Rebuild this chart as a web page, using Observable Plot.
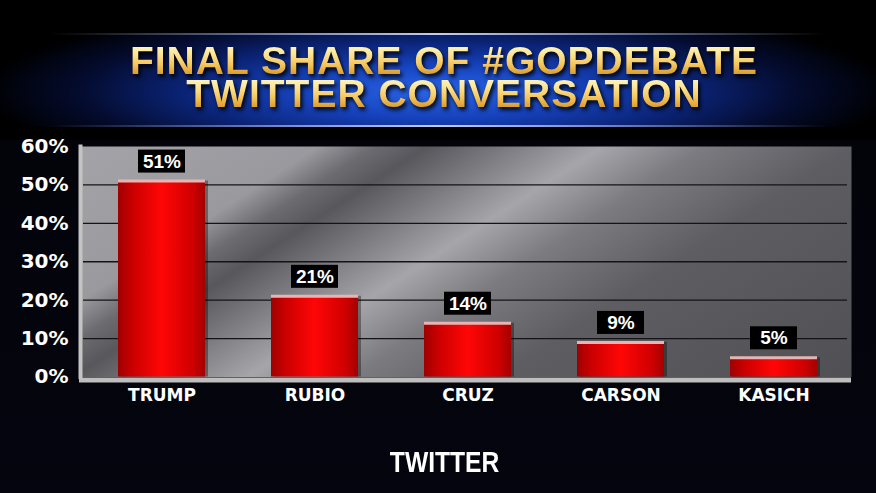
<!DOCTYPE html>
<html><head><meta charset="utf-8">
<script src="https://cdn.jsdelivr.net/npm/d3@7"></script>
<script src="https://cdn.jsdelivr.net/npm/@observablehq/plot@0.6"></script>
<style>
html,body{margin:0;padding:0;background:#000;}
#wrap{width:876px;height:493px;position:relative;overflow:hidden;background:linear-gradient(#000 0px,#000 140px,#03030a 140px,#05050f 493px);}
#banner{position:absolute;left:0;top:33px;width:876px;height:94px;background:radial-gradient(ellipse 52% 95% at 50% 62%, #2a66ea 0%, #1642bc 30%, #0b2478 55%, #040c30 78%, #000 100%);}
#banner:before,#banner:after{content:"";position:absolute;left:50px;right:50px;height:2px;background:linear-gradient(90deg, rgba(150,180,255,0), rgba(200,215,255,0.95) 50%, rgba(150,180,255,0));}
#banner:before{top:0}
#banner:after{bottom:0}
.tl{position:absolute;left:6px;width:876px;height:34px;text-align:center;font-family:"Liberation Sans",Arial,sans-serif;font-weight:bold;font-size:39px;line-height:34px;letter-spacing:1px;overflow:visible;filter:drop-shadow(2px 3px 2px rgba(0,0,0,0.95));}
.tl div{background:linear-gradient(#fff8cc 0%, #fde594 30%, #f4c458 62%, #d08a1e 100%);-webkit-background-clip:text;background-clip:text;color:transparent;}
#t1{top:44px;}
#t2{top:77px;}
#chart{position:absolute;left:0;top:140px;}
#xtitle{position:absolute;left:6px;width:876px;top:448px;text-align:center;font-family:"Liberation Sans",Arial,sans-serif;font-weight:bold;font-size:29px;line-height:29px;color:#fff;transform:scaleX(0.85);transform-origin:442px 0;}
</style>
</head><body>
<div id="wrap">
  <div id="banner"></div>
  <div class="tl" id="t1"><div>FINAL SHARE OF #GOPDEBATE</div></div>
  <div class="tl" id="t2"><div>TWITTER CONVERSATION</div></div>
  <div id="chart"></div>
  <div id="xtitle">TWITTER</div>
</div>
<script>
const candidates = ["TRUMP", "RUBIO", "CRUZ", "CARSON", "KASICH"];
const shares = [51, 21, 14, 9, 5];
const yTicks = [0, 10, 20, 30, 40, 50, 60];
const gridTicks = [10, 20, 30, 40, 50];

const data = candidates.map((name, i) => ({name, share: shares[i]}));

const plot = Plot.plot({
  width: 876,
  height: 300,
  marginTop: 6,
  marginBottom: 63.5,
  marginLeft: 79,
  marginRight: 25,
  style: {background: "transparent", color: "white", overflow: "visible"},
  x: {domain: candidates, range: [50.5, 884.5], padding: 0.433, label: null},
  y: {domain: [0, 60], label: null},
  marks: [
    Plot.frame({fill: "url(#bgGrad)", stroke: null}),
    Plot.ruleY(gridTicks, {stroke: "#141416", strokeWidth: 1.3, insetLeft: 4, insetRight: 4}),
    Plot.barY(data, {x: "name", y: "share", fill: "rgba(0,0,0,0.35)", dx: 3}),
    Plot.barY(data, {x: "name", y: "share", fill: "url(#barGrad)"}),
    Plot.tickY(data, {x: "name", y: "share", stroke: "#e6b4b4", strokeWidth: 3}),
    Plot.barY(data, {x: "name", y1: "share", y2: "share", insetLeft: 20, insetRight: 20, insetTop: -31, insetBottom: 8, fill: "#000"}),
    Plot.text(data, {x: "name", y: "share", text: d => d.share + "%", dy: -19.5, fill: "white", fontSize: 19, fontWeight: "bold", fontFamily: "Liberation Sans, Arial, sans-serif"}),
    Plot.ruleY([0], {stroke: "#bebebe", strokeWidth: 5, dy: 3}),
    Plot.frame({anchor: "left", stroke: "#c4c4c4", strokeWidth: 4, dx: 1}),
    Plot.axisY({ticks: yTicks, tickFormat: d => d + "%", tickSize: 0, tickPadding: 11, fontSize: 20, fontWeight: "bold", fontFamily: "DejaVu Sans, sans-serif", fill: "white", label: null}),
    Plot.axisX({tickSize: 0, tickPadding: 11.5, fontSize: 17, fontWeight: "bold", fontFamily: "DejaVu Sans, sans-serif", fill: "white", label: null})
  ]
});

const svg = d3.select(plot);
const defs = svg.insert("defs", ":first-child");
const bg = defs.append("linearGradient").attr("id", "bgGrad")
  .attr("gradientUnits", "userSpaceOnUse")
  .attr("x1", 79).attr("y1", 6).attr("x2", 417).attr("y2", 525.6);
[[0, "#a4a4a8"], [0.21, "#9a9a9e"], [0.26, "#6c6c70"], [0.306, "#58585c"], [0.37, "#78787c"],
 [0.46, "#a6a6aa"], [0.55, "#7c7c80"], [0.68, "#5e5e62"], [1, "#505054"]]
  .forEach(([o, c]) => bg.append("stop").attr("offset", o).attr("stop-color", c));
const bar = defs.append("linearGradient").attr("id", "barGrad")
  .attr("x1", 0).attr("y1", 0).attr("x2", 1).attr("y2", 0);
[[0, "#9e0000"], [0.15, "#c80000"], [0.5, "#ff0606"], [0.85, "#d00000"], [1, "#a40000"]]
  .forEach(([o, c]) => bar.append("stop").attr("offset", o).attr("stop-color", c));

document.getElementById("chart").append(plot);
</script>
</body></html>
